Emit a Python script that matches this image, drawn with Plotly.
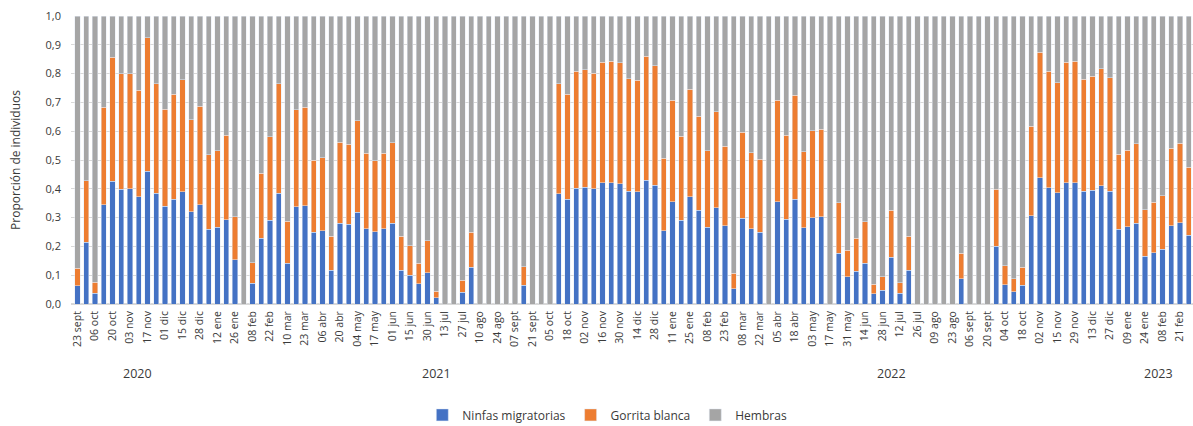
import plotly.graph_objects as go

tick_labels = ["23 sept", "06 oct", "20 oct", "03 nov", "17 nov", "01 dic", "15 dic", "28 dic",
               "12 ene", "26 ene", "08 feb", "22 feb", "10 mar", "23 mar", "06 abr", "20 abr",
               "04 may", "17 may", "01 jun", "15 jun", "30 jun", "13 jul", "27 jul", "10 ago",
               "24 ago", "07 sept", "21 sept", "05 oct", "18 oct", "02 nov", "16 nov", "30 nov",
               "14 dic", "28 dic", "11 ene", "25 ene", "08 feb", "23 feb", "08 mar", "22 mar",
               "05 abr", "18 abr", "03 may", "17 may", "31 may", "14 jun", "28 jun", "12 jul",
               "26 jul", "09 ago", "23 ago", "06 sept", "20 sept", "04 oct", "18 oct", "02 nov",
               "15 nov", "29 nov", "13 dic", "27 dic", "09 ene", "24 ene", "08 feb", "21 feb"]

years = ["2020", "2021", "2022", "2023"]
year_pos = [6.8, 41.0, 93.0, 123.5]

ninfas = [0.063, 0.214, 0.037, 0.345, 0.427, 0.399, 0.400, 0.372, 0.461, 0.384,
          0.340, 0.364, 0.390, 0.321, 0.345, 0.260, 0.266, 0.293, 0.153, 0.0,
          0.072, 0.228, 0.290, 0.384, 0.142, 0.338, 0.341, 0.249, 0.254, 0.118,
          0.280, 0.277, 0.319, 0.261, 0.251, 0.261, 0.280, 0.118, 0.100, 0.070,
          0.109, 0.022, 0.0, 0.0, 0.040, 0.127, 0.0, 0.0, 0.0, 0.0,
          0.0, 0.065, 0.0, 0.0, 0.0, 0.382, 0.364, 0.402, 0.406, 0.400,
          0.421, 0.421, 0.418, 0.391, 0.390, 0.430, 0.412, 0.254, 0.355, 0.291,
          0.372, 0.326, 0.266, 0.334, 0.272, 0.053, 0.297, 0.261, 0.250, 0.0,
          0.355, 0.294, 0.363, 0.265, 0.300, 0.303, 0.0, 0.176, 0.095, 0.114,
          0.142, 0.035, 0.047, 0.163, 0.037, 0.118, 0.0, 0.0, 0.0, 0.0,
          0.0, 0.088, 0.0, 0.0, 0.0, 0.201, 0.066, 0.043, 0.065, 0.307,
          0.438, 0.403, 0.386, 0.421, 0.421, 0.391, 0.395, 0.410, 0.392, 0.260,
          0.268, 0.280, 0.165, 0.178, 0.190, 0.271, 0.282, 0.239]

gorrita = [0.061, 0.214, 0.039, 0.339, 0.430, 0.401, 0.400, 0.370, 0.463, 0.381,
           0.337, 0.364, 0.389, 0.319, 0.341, 0.259, 0.266, 0.293, 0.150, 0.0,
           0.071, 0.226, 0.291, 0.380, 0.145, 0.337, 0.343, 0.251, 0.254, 0.118,
           0.281, 0.277, 0.317, 0.262, 0.247, 0.262, 0.280, 0.118, 0.102, 0.071,
           0.111, 0.022, 0.0, 0.0, 0.043, 0.123, 0.0, 0.0, 0.0, 0.0,
           0.0, 0.065, 0.0, 0.0, 0.0, 0.382, 0.364, 0.406, 0.407, 0.402,
           0.419, 0.422, 0.419, 0.392, 0.387, 0.431, 0.415, 0.252, 0.353, 0.292,
           0.374, 0.326, 0.267, 0.333, 0.275, 0.053, 0.299, 0.264, 0.252, 0.0,
           0.353, 0.292, 0.362, 0.263, 0.301, 0.303, 0.0, 0.175, 0.092, 0.114,
           0.144, 0.033, 0.048, 0.163, 0.037, 0.118, 0.0, 0.0, 0.0, 0.0,
           0.0, 0.088, 0.0, 0.0, 0.0, 0.198, 0.066, 0.045, 0.063, 0.310,
           0.436, 0.405, 0.382, 0.419, 0.422, 0.389, 0.396, 0.407, 0.393, 0.260,
           0.266, 0.277, 0.163, 0.176, 0.186, 0.270, 0.276, 0.235]

hembras = [0.876, 0.572, 0.924, 0.316, 0.143, 0.200, 0.200, 0.258, 0.076, 0.235,
           0.323, 0.272, 0.221, 0.360, 0.314, 0.481, 0.468, 0.414, 0.697, 1.0,
           0.857, 0.546, 0.419, 0.236, 0.713, 0.325, 0.316, 0.500, 0.492, 0.764,
           0.439, 0.446, 0.364, 0.477, 0.502, 0.477, 0.440, 0.764, 0.798, 0.859,
           0.780, 0.956, 1.0, 1.0, 0.917, 0.750, 1.0, 1.0, 1.0, 1.0,
           1.0, 0.870, 1.0, 1.0, 1.0, 0.236, 0.272, 0.192, 0.187, 0.198,
           0.160, 0.157, 0.163, 0.217, 0.223, 0.139, 0.173, 0.494, 0.292, 0.417,
           0.254, 0.348, 0.467, 0.333, 0.453, 0.894, 0.404, 0.475, 0.498, 1.0,
           0.292, 0.414, 0.275, 0.472, 0.399, 0.394, 1.0, 0.649, 0.813, 0.772,
           0.714, 0.932, 0.905, 0.674, 0.926, 0.764, 1.0, 1.0, 1.0, 1.0,
           1.0, 0.824, 1.0, 1.0, 1.0, 0.601, 0.868, 0.912, 0.872, 0.383,
           0.126, 0.192, 0.232, 0.160, 0.157, 0.220, 0.209, 0.183, 0.215, 0.480,
           0.466, 0.443, 0.672, 0.646, 0.624, 0.459, 0.442, 0.526]

x = list(range(len(ninfas)))
font = "Open Sans"
txt = "#3a3a3a"

fig = go.Figure()
fig.add_trace(go.Bar(x=x, y=ninfas, name="Ninfas migratorias", marker_color="#4472C4"))
fig.add_trace(go.Bar(x=x, y=gorrita, name="Gorrita blanca", marker_color="#ED7D31"))
fig.add_trace(go.Bar(x=x, y=hembras, name="Hembras", marker_color="#A5A5A5"))

for yr, pos in zip(years, year_pos):
    fig.add_annotation(x=pos, y=-0.243, xref="x", yref="paper", text=yr, showarrow=False,
                       font=dict(family=font, size=12.5, color=txt), yanchor="middle")

fig.add_annotation(x=-0.05, y=0.5, xref="paper", yref="paper", text="Proporción de individuos",
                   textangle=-90, showarrow=False, xanchor="center", yanchor="middle",
                   font=dict(family=font, size=12, color=txt))

fig.update_layout(
    barmode="stack", bargap=0.4,
    width=1193, height=426,
    margin=dict(l=71, r=0, t=16, b=122, autoexpand=False),
    plot_bgcolor="white", paper_bgcolor="white",
    separators=",.",
    font=dict(family=font, size=11, color=txt),
    legend=dict(orientation="h", x=0.478, xanchor="center", y=-0.385, yanchor="middle",
                font=dict(family=font, size=12, color=txt), traceorder="normal"),
    xaxis=dict(range=[-0.75, 127.5], tickmode="array", automargin=False,
               tickvals=list(range(0, len(ninfas), 2)), ticktext=tick_labels,
               tickangle=-90, tickfont=dict(size=10.5, color=txt), showgrid=False,
               ticks="", showline=False, ticklabelstandoff=4),
    yaxis=dict(range=[0, 1], dtick=0.1, tickformat=".1f", showgrid=True, automargin=False,
               gridcolor="#D9D9D9", gridwidth=1, zeroline=True, zerolinecolor="#D9D9D9",
               tickfont=dict(size=11, color=txt), ticks="", ticklabelstandoff=9),
)

fig.write_html("out.html", config={"displayModeBar": False},
               post_script="document.body.style.margin='0';document.body.style.overflow='hidden';")
